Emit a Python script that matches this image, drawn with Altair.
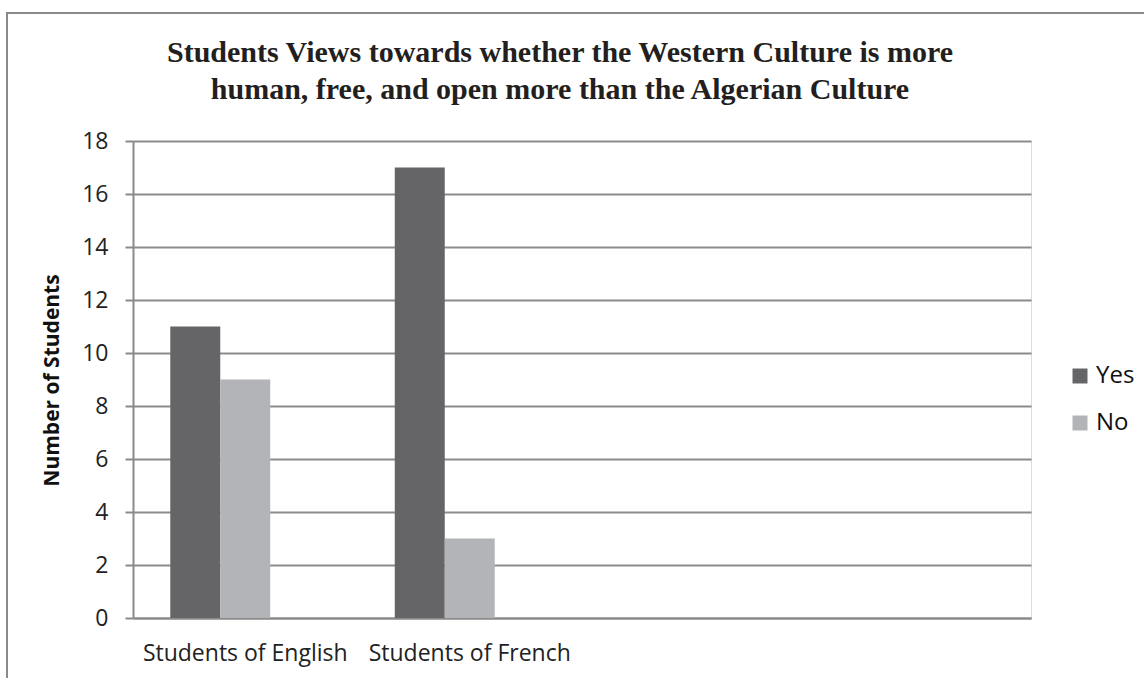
import altair as alt
import pandas as pd

categories = ["Students of English", "Students of French", " ", "  "]
series = ["Yes", "No"]
offset_slots = ["Yes", "No", "(empty)"]
yes_values = [11, 17]
no_values = [9, 3]
colors = ["#656567", "#b3b4b7"]
y_ticks = [0, 2, 4, 6, 8, 10, 12, 14, 16, 18]
title_lines = ["Students Views towards whether the Western Culture is more",
               "human, free, and open more than the Algerian Culture"]

rows = []
for i, cat in enumerate(categories[:2]):
    rows.append({"group": cat, "answer": "Yes", "count": yes_values[i]})
    rows.append({"group": cat, "answer": "No", "count": no_values[i]})
df = pd.DataFrame(rows)

FONT = "Open Sans"
PAD_L, PAD_T, W, H = 133, 141, 898, 477
TITLE_BASELINES = [62, 99]

bars = alt.Chart(df).mark_bar().encode(
    x=alt.X("group:N", sort=categories,
            scale=alt.Scale(domain=categories, paddingInner=0.332, paddingOuter=0.166),
            axis=alt.Axis(title=None, labelAngle=0, ticks=False, labelPadding=24, labelLimit=400,
                          labelFont=FONT, labelFontSize=23, labelColor="#222222",
                          domainColor="#8a8a8a", domainWidth=2, grid=False)),
    xOffset=alt.XOffset("answer:N", scale=alt.Scale(domain=offset_slots, paddingInner=0, paddingOuter=0)),
    y=alt.Y("count:Q", scale=alt.Scale(domain=[0, 18], nice=False),
            axis=alt.Axis(title="Number of Students", values=y_ticks, tickSize=8, labelPadding=17,
                          tickColor="#8a8a8a", tickWidth=2, domainColor="#8a8a8a", domainWidth=2,
                          gridColor="#8c8c8c", gridWidth=2,
                          labelFont=FONT, labelFontSize=23, labelColor="#222222",
                          titleFont=FONT, titleFontSize=21, titleFontWeight="bold", titleColor="#111111",
                          titleX=-81, titleY=239, titleAngle=-90, titleAlign="center", titleBaseline="middle")),
    color=alt.Color("answer:N", scale=alt.Scale(domain=series, range=colors),
                    legend=alt.Legend(title=None, orient="none", legendX=935, legendY=223,
                                      symbolType="square", symbolSize=225, symbolStrokeWidth=0,
                                      labelFont=FONT, labelFontSize=24, labelColor="#111111",
                                      labelOffset=4, rowPadding=23, padding=0)),
)

frame = alt.Chart(pd.DataFrame({"k": [0]})).mark_rect(
    fill=None, stroke="#8a8a8a", strokeWidth=2, clip=False
).encode(
    x=alt.value(7 - PAD_L), x2=alt.value(1150 - PAD_L),
    y=alt.value(13 - PAD_T), y2=alt.value(690 - PAD_T),
)

title_layers = []
for line, base in zip(title_lines, TITLE_BASELINES):
    title_layers.append(
        alt.Chart(pd.DataFrame({"t": [line]})).mark_text(
            font="Liberation Serif", fontSize=30, fontWeight="bold", color="#231f20",
            align="center", baseline="alphabetic", clip=False
        ).encode(
            text="t:N",
            x=alt.value(560 - PAD_L),
            y=alt.value(base - PAD_T),
        )
    )

chart = alt.layer(frame, bars, *title_layers).properties(
    width=W, height=H,
    autosize=alt.AutoSizeParams(type="none"),
    padding={"left": PAD_L, "top": PAD_T, "right": 1144 - PAD_L - W, "bottom": 678 - PAD_T - H},
).configure_view(stroke=None).configure(background="white")

chart.save("out.html", embed_options={"renderer": "svg", "actions": False})
